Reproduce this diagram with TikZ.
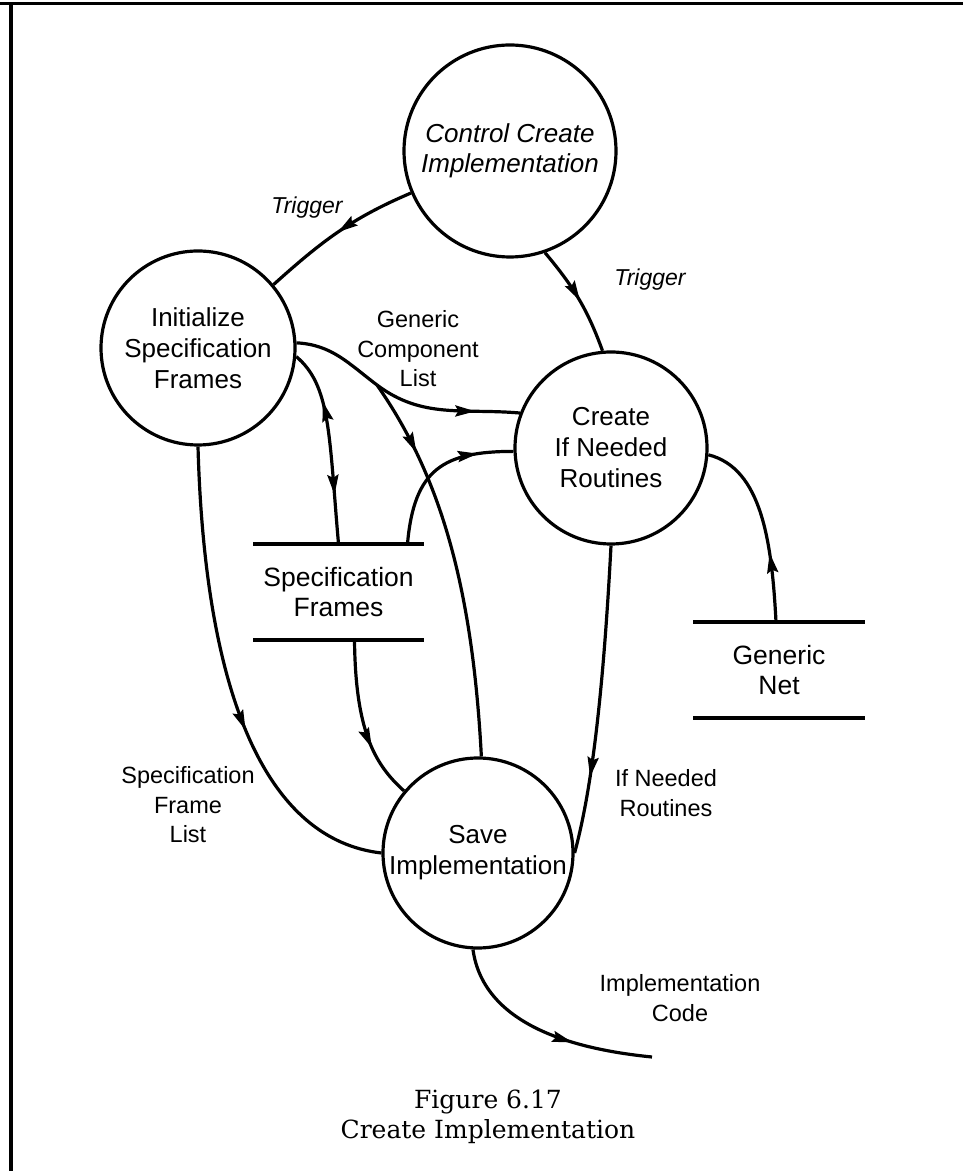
\documentclass[tikz,border=0pt]{standalone}
\usepackage{fontspec}
\setsansfont{Liberation Sans}
\newfontfamily\capfont{DejaVu Serif}
\usetikzlibrary{arrows.meta,decorations.markings}
\tikzset{
  >={Stealth[length=20pt,width=11pt,inset=3pt]},
  proc/.style={circle, draw, line width=3.2pt, inner sep=0pt, minimum size=#1},
  proctext/.style={font=\sffamily\fontsize{26}{31}\selectfont, align=center, inner sep=0pt},
  ctrltext/.style={font=\sffamily\itshape\fontsize{26}{30}\selectfont, align=center, inner sep=0pt},
  store/.style={minimum width=#1, minimum height=96pt, inner sep=0pt, align=center, font=\sffamily\fontsize{26.5}{30}\selectfont},
  storeline/.style={line width=4pt},
  flow/.style={line width=3.2pt},
  lbl/.style={font=\sffamily\fontsize{23.5}{29.5}\selectfont, align=center, inner sep=0pt},
  ilbl/.style={font=\sffamily\itshape\fontsize{23}{28}\selectfont, align=center, inner sep=0pt},
  captxt/.style={font=\capfont\fontsize{25}{30}\selectfont, align=center, inner sep=0pt},
  arrowat/.style={postaction={decorate}, decoration={markings, mark=at position #1 with {\arrow{>}}}},
  bidir/.style={postaction={decorate}, decoration={markings, mark=at position 0.27 with {\arrowreversed{>}}, mark=at position 0.75 with {\arrow{>}}}}
}
\begin{document}
\begin{tikzpicture}[x=1pt,y=1pt]
\useasboundingbox (0,0) rectangle (963,1171);
% frame
\draw[line width=3pt] (0,1167) -- (963,1167);
\draw[line width=3.5pt] (11,1168.5) -- (11,0);

% processes
\node[proc=212pt, label={[ctrltext]center:{Control Create\\Implementation}}] (ctrl) at (510,1020) {};
\node[proc=194pt, label={[proctext]center:{Initialize\\Specification\\Frames}}] (init) at (198,823) {};
\node[proc=192pt, label={[proctext]center:{Create\\If Needed\\Routines}}] (create) at (611,723) {};
\node[proc=190pt, label={[proctext]center:{Save\\Implementation}}] (save) at (478,318) {};

% stores
\node[store=170pt] (sf) at (338.5,579) {Specification\\Frames};
\draw[storeline] (sf.north west) -- (sf.north east) (sf.south west) -- (sf.south east);
\node[store=171pt] (net) at (779,501) {Generic\\Net};
\draw[storeline] (net.north west) -- (net.north east) (net.south west) -- (net.south east);

% flows
\draw[flow, arrowat=0.5] (ctrl.203) to[out=203,in=42] (init.40);
\draw[flow, arrowat=0.52] (ctrl.289) to[out=-50,in=110] (create.95);
\coordinate (fork) at (377,786);
\draw[flow] (init.3) to[out=-3,in=143] (fork);
\draw[flow, arrowat=0.7] (fork) to[out=-37,in=175] (create.159);
\draw[flow, arrowat=0.2] (fork) .. controls +(-55:110) and +(93:170) .. (save.88);
\draw[flow, bidir] (init.-5) .. controls +(-40:45) and +(95:110) .. (sf.north);
\draw[flow, arrowat=0.78] ([xshift=69pt]sf.north) .. controls +(85:75) and +(180:70) .. (create.182);
\draw[flow, arrowat=0.36] ([xshift=-3pt]net.north) .. controls +(93:80) and +(-14:55) .. (create.-4);
\draw[flow, arrowat=0.75] (create.south) .. controls +(-93:180) and +(75:50) .. (save.east);
\draw[flow, arrowat=0.6] (init.south) .. controls +(7,-254) and +(-113,13) .. (save.west);
\draw[flow, arrowat=0.67] ([xshift=16pt]sf.south) .. controls +(1,-90) and +(-30,27) .. (save.140);
\coordinate (outend) at (652,114);
\draw[flow, arrowat=0.64] (save.-93) .. controls +(11,-79) and +(-70,7) .. (outend);

% labels
\node[ilbl] (t1) at (307,963) {Trigger};
\node[ilbl] (t2) at (650,891) {Trigger};
\node[lbl] (gcl) at (418,822) {Generic\\Component\\List};
\node[lbl] (sfl) at (188,366) {Specification\\Frame\\List};
\node[lbl] (inr) at (666,378) {If Needed\\Routines};
\node[lbl] (ic) at (680,173) {Implementation\\Code};
\node[captxt] (cap) at (488,54) {Figure 6.17\\Create Implementation};
\end{tikzpicture}
\end{document}
